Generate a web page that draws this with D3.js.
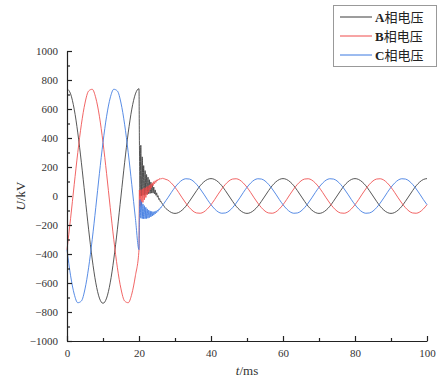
<!DOCTYPE html>
<html><head><meta charset="utf-8">
<script src="https://cdn.jsdelivr.net/npm/d3@7/dist/d3.min.js"></script>
<style>body{margin:0;background:#fff}svg{display:block}</style>
</head><body><svg id="c" width="438" height="385"></svg>
<script>
const seriesNames = ["A相电压", "B相电压", "C相电压"];
const seriesColors = ["#3a3a3a", "#ef4a4a", "#3b78e0"];
const xMajorTicks = [0, 20, 40, 60, 80, 100];
const xMinorTicks = [10, 30, 50, 70, 90];
const yMajorTicks = [-1000, -800, -600, -400, -200, 0, 200, 400, 600, 800, 1000];
const yMinorTicks = [-900, -700, -500, -300, -100, 100, 300, 500, 700, 900];

const timeMs = [
  0,1,2,3,4,5,6,7,8,9,10,11,12,13,14,15,16,17,18,19,20,
  20.1,20.3,20.5,20.7,20.9,21.1,21.3,21.5,21.7,21.9,22.1,22.3,22.5,22.7,22.9,23.1,23.3,23.5,23.7,23.9,
  24.1,24.3,24.5,24.7,24.9,25.1,25.3,25.5,25.7,25.9,26.1,26.3,26.5,26.7,26.9,
  27,28,29,30,31,32,33,34,35,36,37,38,39,
  40,41,42,43,44,45,46,47,48,49,50,51,52,53,54,55,56,57,58,59,
  60,61,62,63,64,65,66,67,68,69,70,71,72,73,74,75,76,77,78,79,
  80,81,82,83,84,85,86,87,88,89,90,91,92,93,94,95,96,97,98,99,100
];
const phaseA = [
  740,704,599,435,229,0,-229,-435,-599,-704,-740,-704,-599,-435,-229,0,229,435,599,704,740,
  420,0,350,0,270,5,210,5,175,10,148,12,130,15,112,18,96,20,80,20,62,15,42,5,22,-8,2,-24,-18,-38,-36,-50,-52,-63,-66,
  -71,-97,-114,-120,-114,-97,-71,-37,0,37,71,97,114,
  120,114,97,71,37,0,-37,-71,-97,-114,-120,-114,-97,-71,-37,0,37,71,97,114,
  120,114,97,71,37,0,-37,-71,-97,-114,-120,-114,-97,-71,-37,0,37,71,97,114,
  120,114,97,71,37,0,-37,-71,-97,-114,-120,-114,-97,-71,-37,0,37,71,97,114,
  120
];
const phaseB = [
  -370,-154,78,301,495,641,724,736,676,550,370,154,-78,-301,-495,-641,-724,-736,-676,-550,-370,
  41,-72,43,-60,46,-44,53,-27,57,-10,63,8,68,25,75,42,84,57,91,71,99,83,105,94,111,104,115,110,120,116,122,118,123,119,121,
  119,110,89,60,25,-13,-49,-80,-104,-117,-119,-110,-89,
  -60,-25,13,49,80,104,117,119,110,89,60,25,-13,-49,-80,-104,-117,-119,-110,-89,
  -60,-25,13,49,80,104,117,119,110,89,60,25,-13,-49,-80,-104,-117,-119,-110,-89,
  -60,-25,13,49,80,104,117,119,110,89,60,25,-13,-49,-80,-104,-117,-119,-110,-89,
  -60
];
const phaseC = [
  -370,-550,-676,-736,-724,-641,-495,-301,-78,154,370,550,676,736,724,641,495,301,78,-154,-370,
  -148,-25,-153,-40,-156,-55,-158,-67,-157,-78,-156,-89,-153,-97,-149,-103,-144,-107,-138,-108,-132,-108,-124,-103,-115,-98,-105,-91,-93,-81,-82,-71,-67,-58,-53,
  -49,-13,25,60,89,110,119,117,104,80,49,13,-25,
  -60,-89,-110,-119,-117,-104,-80,-49,-13,25,60,89,110,119,117,104,80,49,13,-25,
  -60,-89,-110,-119,-117,-104,-80,-49,-13,25,60,89,110,119,117,104,80,49,13,-25,
  -60,-89,-110,-119,-117,-104,-80,-49,-13,25,60,89,110,119,117,104,80,49,13,-25,
  -60
];

const svg = d3.select("#c");
const x = d3.scaleLinear().domain([0, 100]).range([67, 427]);
const y = d3.scaleLinear().domain([-1000, 1000]).range([341, 51]);
const serif = "'Liberation Serif','Times New Roman',serif";

// lines
const series = [phaseA, phaseB, phaseC];
const line = d3.line().x((d, i) => x(timeMs[i])).y(d => y(d)).curve(d3.curveMonotoneX);
series.forEach((vals, s) => {
  svg.append("path").datum(vals)
    .attr("d", line)
    .attr("fill", "none")
    .attr("stroke", seriesColors[s])
    .attr("stroke-width", 1)
    .attr("stroke-opacity", 0.85);
});

// axes
function styleAxis(g) {
  g.selectAll("path.domain").attr("stroke", "#222").attr("stroke-width", 1.2);
  g.selectAll(".tick line").attr("stroke", "#222").attr("stroke-width", 1.2);
  g.selectAll("text").attr("font-family", serif).attr("font-size", 11).attr("fill", "#333");
}
const gx = svg.append("g").attr("transform", `translate(0,${y(-1000)})`)
  .call(d3.axisBottom(x).tickValues(xMajorTicks).tickFormat(d3.format("d")).tickSizeInner(-5).tickSizeOuter(0).tickPadding(8));
styleAxis(gx);
const gxm = svg.append("g").attr("transform", `translate(0,${y(-1000)})`)
  .call(d3.axisBottom(x).tickValues(xMinorTicks).tickFormat("").tickSizeInner(-3).tickSizeOuter(0));
gxm.select("path.domain").remove(); styleAxis(gxm);

const gy = svg.append("g").attr("transform", `translate(${x(0)},0)`)
  .call(d3.axisLeft(y).tickValues(yMajorTicks).tickFormat(d3.format("d")).tickSizeInner(-5).tickSizeOuter(0).tickPadding(9));
styleAxis(gy);
const gym = svg.append("g").attr("transform", `translate(${x(0)},0)`)
  .call(d3.axisLeft(y).tickValues(yMinorTicks).tickFormat("").tickSizeInner(-3).tickSizeOuter(0));
gym.select("path.domain").remove(); styleAxis(gym);

// axis titles
const yt = svg.append("text").attr("transform", "translate(25,196) rotate(-90)")
  .attr("text-anchor", "middle").attr("font-family", serif).attr("font-size", 13).attr("fill", "#333");
yt.append("tspan").attr("font-style", "italic").text("U");
yt.append("tspan").text("/kV");
const xt = svg.append("text").attr("x", 247).attr("y", 375)
  .attr("text-anchor", "middle").attr("font-family", serif).attr("font-size", 13).attr("fill", "#333");
xt.append("tspan").attr("font-style", "italic").text("t");
xt.append("tspan").text("/ms");

// legend
const lg = svg.append("g");
lg.append("rect").attr("x", 333.5).attr("y", 5.5).attr("width", 103).attr("height", 61)
  .attr("fill", "#fff").attr("stroke", "#999").attr("stroke-width", 1);
seriesNames.forEach((n, i) => {
  const yy = 17 + i * 19;
  lg.append("line").attr("x1", 340).attr("x2", 372).attr("y1", yy).attr("y2", yy)
    .attr("stroke", seriesColors[i]).attr("stroke-width", 1);
  const t = lg.append("text").attr("x", 375).attr("y", yy + 4.5)
    .attr("font-size", 13).attr("fill", "#222");
  t.append("tspan").attr("font-family", serif).attr("font-weight", "bold").text(n.slice(0, 1));
  t.append("tspan").attr("font-family", "'Noto Sans CJK SC',sans-serif").text(n.slice(1));
});
</script></body></html>
